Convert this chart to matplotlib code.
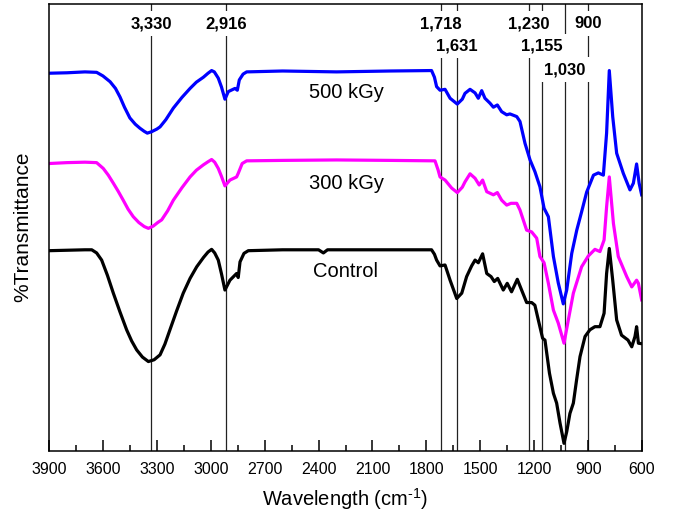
"""FTIR spectra of control and irradiated samples."""

import matplotlib
matplotlib.use("Agg")
import matplotlib.pyplot as plt
import matplotlib.transforms as mtransforms
import numpy as np

plt.rcParams["font.family"] = ["Liberation Sans", "DejaVu Sans"]
plt.rcParams["mathtext.fontset"] = "custom"
plt.rcParams["mathtext.rm"] = "Liberation Sans"
plt.rcParams["mathtext.it"] = "Liberation Sans:italic"

# wavenumber (cm-1) / transmittance (arbitrary %)
wn_500 = [3900, 3800, 3700, 3635, 3600, 3560, 3530, 3505, 3480, 3450, 3420, 3394,
          3370, 3353, 3330, 3300, 3282, 3250, 3208, 3160, 3115, 3080, 3041, 3015,
          2995, 2980, 2958, 2940, 2921, 2902, 2865, 2852, 2841, 2820, 2800, 2600,
          2300, 2000, 1771, 1755, 1743, 1724, 1696, 1668, 1628, 1600, 1585, 1557,
          1529, 1511, 1492, 1474, 1446, 1427, 1405, 1381, 1353, 1335, 1297, 1279,
          1251, 1223, 1196, 1168, 1145, 1121, 1093, 1066, 1038, 1019, 991, 963,
          936, 908, 870, 843, 815, 797, 782, 763, 741, 704, 667, 648, 630, 616, 602]
t_500 = [84.4, 84.5, 84.7, 84.6, 83.8, 82.5, 81.0, 79.1, 76.8, 74.4, 73.0, 72.1,
         71.4, 71.0, 71.3, 71.9, 72.4, 74.0, 76.6, 79.0, 81.0, 82.4, 83.5, 84.4,
         85.0, 84.7, 83.3, 81.3, 78.6, 80.3, 81.0, 80.6, 82.9, 84.2, 84.7, 84.9,
         84.7, 84.9, 85.0, 83.5, 81.4, 80.6, 80.8, 78.8, 77.5, 78.6, 79.9, 80.8,
         80.0, 78.8, 80.5, 78.8, 77.7, 76.8, 77.3, 75.8, 75.1, 75.3, 74.7, 73.6,
         68.7, 65.0, 62.4, 59.0, 54.2, 52.3, 43.4, 37.5, 32.8, 35.9, 44.1, 49.3,
         53.4, 57.8, 61.6, 62.1, 61.6, 71.0, 85.0, 74.7, 66.5, 62.0, 58.3, 59.8,
         64.1, 59.8, 57.2]

wn_300 = [3900, 3800, 3700, 3635, 3598, 3570, 3542, 3515, 3487, 3460, 3431, 3400,
          3370, 3347, 3320, 3295, 3273, 3240, 3208, 3160, 3115, 3080, 3041, 3015,
          2995, 2978, 2958, 2940, 2921, 2893, 2856, 2847, 2825, 2800, 2600, 2300,
          2000, 1752, 1735, 1724, 1696, 1659, 1628, 1600, 1585, 1557, 1529, 1506,
          1487, 1464, 1427, 1405, 1381, 1353, 1329, 1297, 1279, 1242, 1214, 1186,
          1168, 1145, 1121, 1093, 1066, 1034, 1010, 982, 936, 899, 862, 834, 811,
          797, 782, 759, 732, 685, 657, 630, 620, 602]
t_300 = [64.2, 64.4, 64.5, 64.4, 63.1, 61.6, 59.8, 58.0, 56.0, 54.0, 52.3, 51.0,
         50.1, 49.7, 50.2, 51.0, 51.6, 53.6, 56.0, 58.8, 61.2, 62.7, 63.9, 64.6,
         65.1, 64.5, 63.1, 61.3, 59.2, 60.5, 61.2, 62.0, 64.2, 64.8, 64.9, 65.0,
         64.9, 64.8, 62.8, 61.2, 60.5, 58.7, 57.7, 58.9, 60.1, 61.9, 60.9, 59.4,
         60.5, 57.9, 57.2, 57.7, 56.0, 54.9, 55.3, 55.3, 53.8, 49.3, 48.9, 47.5,
         43.4, 42.0, 37.4, 31.4, 28.5, 24.0, 29.2, 35.2, 41.1, 43.5, 45.0, 44.5,
         47.1, 54.5, 61.2, 50.8, 43.4, 38.9, 36.6, 38.1, 37.4, 33.7]

wn_ctrl = [3900, 3800, 3700, 3662, 3635, 3607, 3575, 3542, 3505, 3468, 3440, 3412,
           3380, 3347, 3315, 3282, 3255, 3227, 3190, 3153, 3115, 3078, 3040, 3015,
           2995, 2978, 2958, 2940, 2921, 2893, 2856, 2847, 2837, 2815, 2791, 2600,
           2400, 2373, 2350, 2000, 1771, 1755, 1743, 1724, 1696, 1668, 1631, 1603,
           1576, 1548, 1529, 1511, 1487, 1464, 1440, 1422, 1403, 1372, 1350, 1326,
           1294, 1270, 1242, 1214, 1196, 1177, 1153, 1140, 1115, 1093, 1075, 1056,
           1034, 1019, 1001, 982, 964, 945, 917, 890, 862, 834, 811, 797, 782, 763,
           741, 714, 678, 657, 639, 630, 620, 602]
t_ctrl = [44.7, 44.8, 44.9, 44.9, 44.2, 42.6, 39.2, 35.2, 31.0, 27.0, 24.5, 22.5,
          20.9, 19.9, 20.3, 21.4, 23.8, 27.0, 31.2, 35.2, 38.5, 41.1, 43.2, 44.4,
          45.0, 44.2, 42.6, 39.5, 35.9, 38.1, 39.6, 38.7, 42.2, 44.1, 44.7, 44.9,
          44.9, 44.2, 44.9, 44.9, 44.9, 43.9, 42.6, 41.3, 41.5, 38.1, 34.0, 35.2,
          38.9, 41.3, 42.6, 42.0, 44.0, 39.6, 38.9, 37.8, 38.5, 35.9, 37.4, 35.5,
          38.3, 35.9, 33.1, 33.1, 32.5, 29.2, 25.1, 24.7, 17.3, 12.8, 10.6, 6.1,
          1.6, 4.2, 8.3, 10.6, 15.8, 21.0, 25.5, 27.0, 27.7, 27.7, 30.7, 39.6,
          45.2, 38.1, 29.2, 25.8, 24.7, 23.2, 25.5, 27.7, 24.0, 23.9]

series_names = ["500 kGy", "300 kGy", "Control"]
series_colors = ["#0000ff", "#ff00ff", "#000000"]
label_pos = [(2244, 80.2), (2244, 59.8), (2249, 40.0)]

peaks = [3330, 2916, 1718, 1631, 1230, 1155, 1030, 900]
peak_labels = ["3,330", "2,916", "1,718", "1,631", "1,230", "1,155", "1,030", "900"]
peak_rows = [0, 0, 0, 1, 0, 1, 2, 0]
row_y = [0.955, 0.905, 0.852]

fig = plt.figure(figsize=(6.74, 5.17), dpi=100)
ax = fig.add_axes([49 / 674, 1 - 450.5 / 517, 593 / 674, 447 / 517])

for p in peaks:
    ax.axvline(p, color="#222222", lw=0.9, zorder=1)

for wn, t, c in zip([wn_500, wn_300, wn_ctrl], [t_500, t_300, t_ctrl], series_colors):
    ax.plot(wn, t, color=c, lw=2.3, zorder=2, solid_joinstyle="round")

for name, (x, y) in zip(series_names, label_pos):
    ax.text(x, y, name, fontsize=14.5, ha="center", va="center", zorder=3)

trans = mtransforms.blended_transform_factory(ax.transData, ax.transAxes)
for p, lab, r in zip(peaks, peak_labels, peak_rows):
    ax.text(p, row_y[r], lab, transform=trans, fontsize=12, fontweight="bold",
            family=["Liberation Sans Narrow", "Liberation Sans"],
            ha="center", va="center", zorder=4,
            bbox=dict(facecolor="white", edgecolor="none", pad=3.5))

ax.set_xlim(3900, 600)
ax.set_ylim(0, 100)
ax.set_xticks(np.arange(3900, 599, -300))
ax.set_xticks(np.arange(3750, 599, -300), minor=True)
ax.set_yticks([])
ax.tick_params(axis="x", which="major", direction="in", length=8, width=1.1,
               labelsize=11.5, pad=8)
ax.tick_params(axis="x", which="minor", direction="in", length=4.5, width=1.1)
for s in ax.spines.values():
    s.set_linewidth(1.1)

ax.set_xlabel(r"Wavelength (cm$^{\text{-}1}$)", fontsize=14.5, labelpad=7)
ax.set_ylabel("%Transmittance", fontsize=15, labelpad=12)

fig.savefig("out.png", dpi=100)
